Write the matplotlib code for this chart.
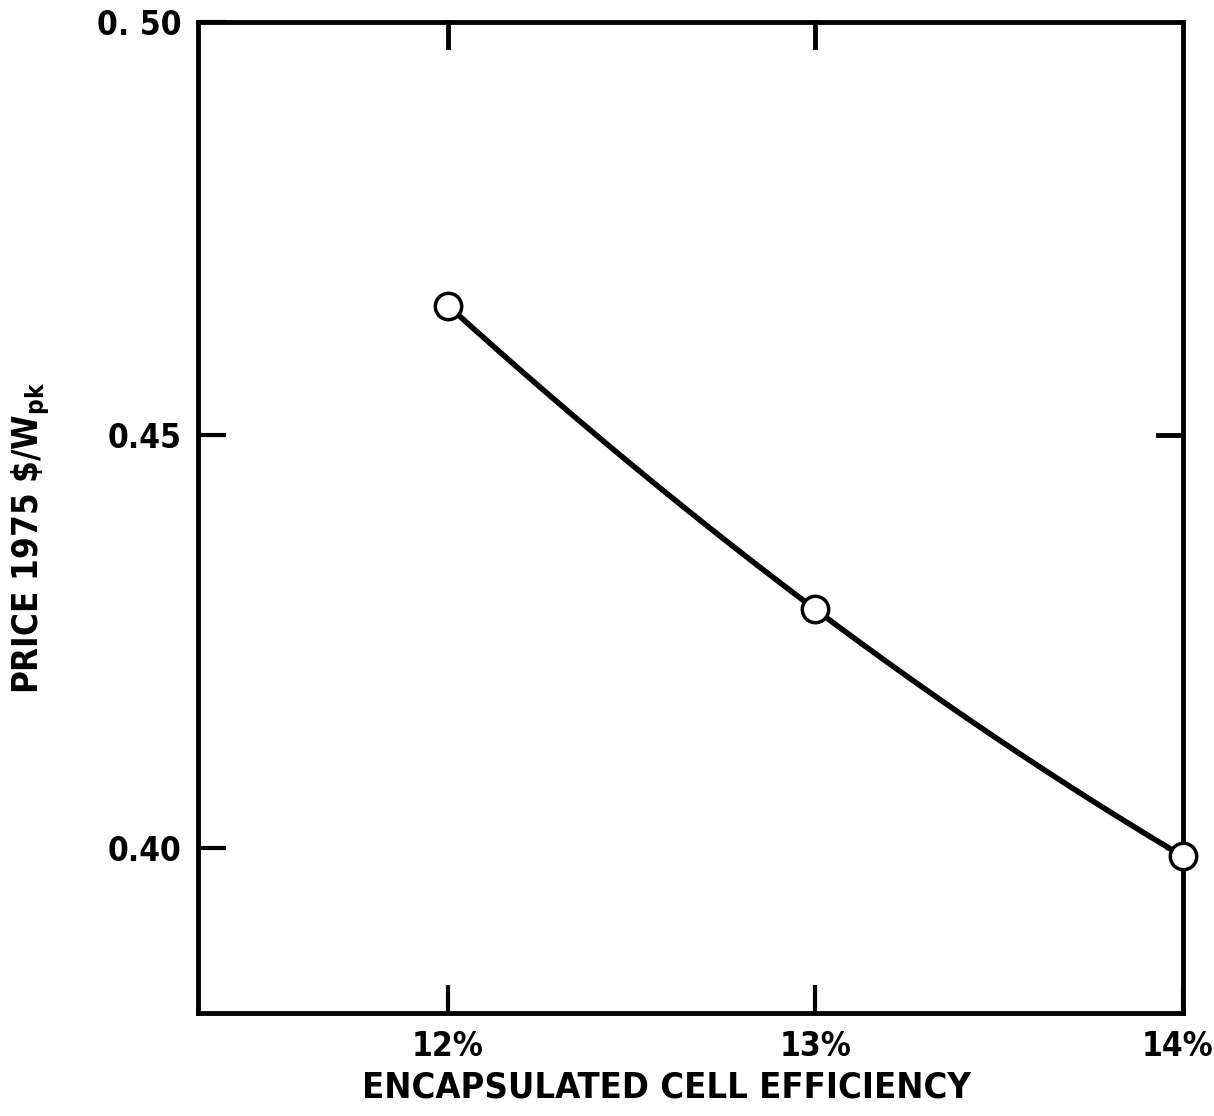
import numpy as np
import matplotlib
matplotlib.use('Agg')
import matplotlib.pyplot as plt
import matplotlib.transforms as mtrans

# data
efficiency = [12, 13, 14]          # encapsulated cell efficiency, %
price = [0.4657, 0.4289, 0.3990]   # 1975 $/Wpk
x_ticks = [12, 13, 14]
x_labels = ['12%', '13%', '14%']
y_ticks = [0.40, 0.45, 0.50]
y_labels = ['0.40', '0.45', '0. 50']

plt.rcParams['font.family'] = ['DejaVu Sans']
plt.rcParams['font.stretch'] = 'condensed'
plt.rcParams['font.weight'] = 'bold'
plt.rcParams['axes.labelweight'] = 'bold'

fig = plt.figure(figsize=(12.14, 11.16), dpi=100)
ax = fig.add_axes([0.163, 0.092, 0.8115, 0.888])

# smooth curve through the three points
coef = np.polyfit(efficiency, price, 2)
xs = np.linspace(efficiency[0], efficiency[-1], 200)
ax.plot(xs, np.polyval(coef, xs), color='black', lw=4, zorder=2)
ax.plot(efficiency, price, 'o', ms=19, mfc='white', mec='black', mew=2.5,
        zorder=3, clip_on=False)

ax.set_xlim(11.32, 14.0)
ax.set_ylim(0.38, 0.50)

ax.set_xticks(x_ticks)
ax.set_xticklabels(x_labels)
ax.set_yticks(y_ticks)
ax.set_yticklabels(y_labels)
ax.tick_params(direction='in', length=20, width=3, labelsize=24, pad=12,
               top=False, right=False)
# pull the last x label in so it stays on the page
last = ax.get_xticklabels()[-1]
last.set_transform(last.get_transform() + mtrans.ScaledTranslation(-6 / 100, 0, fig.dpi_scale_trans))

# extra inward ticks on top and right
for x in [12, 13]:
    ax.plot([x, x], [0.50, 0.497], color='black', lw=3.5, clip_on=False)
ax.plot([13.932, 14.0], [0.45, 0.45], color='black', lw=3.5)
ax.plot([13.955, 14.0], [0.40, 0.40], color='black', lw=2.5)

for s in ax.spines.values():
    s.set_linewidth(3.5)

ax.set_xlabel('ENCAPSULATED CELL EFFICIENCY', fontsize=26)
ax.xaxis.set_label_coords(0.476, -0.058)
ax.set_ylabel(r'PRICE 1975 \$/W$_{\mathregular{pk}}$', fontsize=25)
ax.yaxis.set_label_coords(-0.148, 0.48)

fig.savefig('out.png', dpi=100)
